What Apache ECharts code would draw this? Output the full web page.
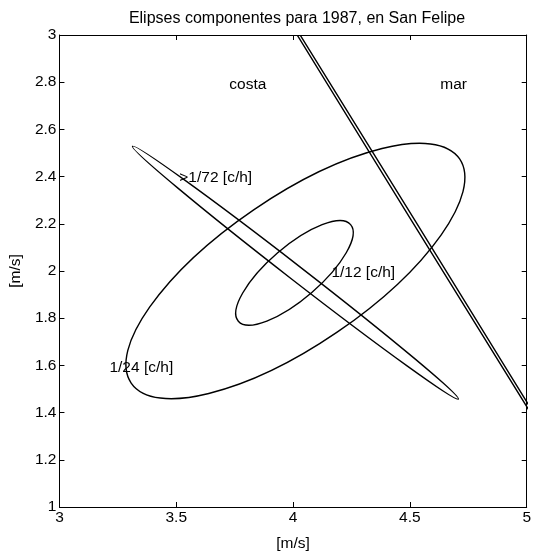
<!DOCTYPE html>
<html>
<head>
<meta charset="utf-8">
<script src="https://cdn.jsdelivr.net/npm/echarts@6/dist/echarts.min.js"></script>
<style>
  html, body { margin: 0; padding: 0; background: #fff; }
  #chart { width: 534px; height: 557px; }
</style>
</head>
<body>
<div id="chart"></div>
<script>
// Axis ranges and ticks
const xTicks = [3, 3.5, 4, 4.5, 5];
const yTicks = [1, 1.2, 1.4, 1.6, 1.8, 2, 2.2, 2.4, 2.6, 2.8, 3];

// Component ellipses: centre, semi-major axis, semi-minor axis, orientation (deg)
const ellipseNames  = ['1/12 [c/h]', '1/24 [c/h]', '1/72 [c/h]', 'diaria'];
const ellipseCx     = [4.006, 4.01, 4.01, 4.52];
const ellipseCy     = [1.992, 2.0, 1.993, 2.205];
const ellipseMajor  = [0.317, 0.851, 0.8825, 3.0];
const ellipseMinor  = [0.112, 0.317, 0.0315, 0.0065];
const ellipseAngle  = [40.7, 34.3, -37.8, -58.35];

// Text annotations
const noteText = ['costa', 'mar', '>1/72 [c/h]', '1/12 [c/h]', '1/24 [c/h]'];
const noteX    = [3.727, 4.63, 3.513, 4.164, 3.214];
const noteY    = [2.79, 2.79, 2.395, 1.992, 1.592];

const FONT = '"Liberation Sans", Arial, Helvetica, sans-serif';
const FS = 15.5;

const ellipseData = ellipseNames.map((n, i) => [
  ellipseCx[i], ellipseCy[i], ellipseMajor[i], ellipseMinor[i], ellipseAngle[i]
]);
const noteData = noteText.map((t, i) => [noteX[i], noteY[i], t]);

const chart = echarts.init(document.getElementById('chart'), null, { renderer: 'canvas' });

const baseAxis = {
  type: 'value',
  interval: 0.2,
  axisLine: { show: true, lineStyle: { color: '#000', width: 1 } },
  axisTick: { show: true, inside: true, length: 5, lineStyle: { color: '#000', width: 1 } },
  splitLine: { show: false },
  axisLabel: { color: '#000', fontFamily: FONT, fontSize: FS }
};

chart.setOption({
  animation: false,
  backgroundColor: '#fff',
  title: {
    text: 'Elipses componentes para 1987, en San Felipe',
    left: 292,
    top: 6,
    textAlign: 'center',
    textStyle: { color: '#000', fontFamily: FONT, fontSize: 16, fontWeight: 'normal' }
  },
  grid: { left: 55, right: 3, top: 35, bottom: 46, containLabel: false },
  xAxis: [
    Object.assign({}, baseAxis, {
      min: xTicks[0], max: xTicks[xTicks.length - 1], interval: 0.5,
      position: 'bottom',
      name: '[m/s]', nameLocation: 'middle', nameGap: 29,
      nameTextStyle: { color: '#000', fontFamily: FONT, fontSize: FS },
      axisLabel: { color: '#000', fontFamily: FONT, fontSize: FS, margin: 3 }
    }),
    Object.assign({}, baseAxis, {
      min: xTicks[0], max: xTicks[xTicks.length - 1], interval: 0.5,
      position: 'top', axisLabel: { show: false }
    })
  ],
  yAxis: [
    Object.assign({}, baseAxis, {
      min: yTicks[0], max: yTicks[yTicks.length - 1],
      position: 'left',
      name: '[m/s]', nameLocation: 'middle', nameGap: 34,
      nameTextStyle: { color: '#000', fontFamily: FONT, fontSize: FS },
      axisLabel: { color: '#000', fontFamily: FONT, fontSize: FS, margin: 3 }
    }),
    Object.assign({}, baseAxis, {
      min: yTicks[0], max: yTicks[yTicks.length - 1],
      position: 'right', axisLabel: { show: false }
    })
  ],
  series: [
    {
      type: 'custom',
      name: 'elipses',
      clip: true,
      xAxisIndex: 0,
      yAxisIndex: 0,
      encode: { x: 0, y: 1 },
      data: ellipseData,
      renderItem: function (params, api) {
        const c = api.coord([api.value(0), api.value(1)]);
        const rx = api.size([api.value(2), 0])[0];
        const ry = api.size([api.value(3), 0])[0];
        return {
          type: 'ellipse',
          x: c[0], y: c[1],
          rotation: api.value(4) * Math.PI / 180,
          shape: { cx: 0, cy: 0, rx: rx, ry: ry },
          style: { fill: null, stroke: '#000', lineWidth: 1.4 }
        };
      }
    },
    {
      type: 'custom',
      name: 'notas',
      xAxisIndex: 0,
      yAxisIndex: 0,
      encode: { x: 0, y: 1 },
      data: noteData,
      renderItem: function (params, api) {
        const p = api.coord([api.value(0), api.value(1)]);
        return {
          type: 'text',
          x: p[0], y: p[1],
          style: {
            text: noteText[params.dataIndex],
            fill: '#000',
            font: FS + 'px ' + FONT,
            textAlign: 'left',
            textVerticalAlign: 'middle'
          }
        };
      }
    }
  ]
});
</script>
</body>
</html>
